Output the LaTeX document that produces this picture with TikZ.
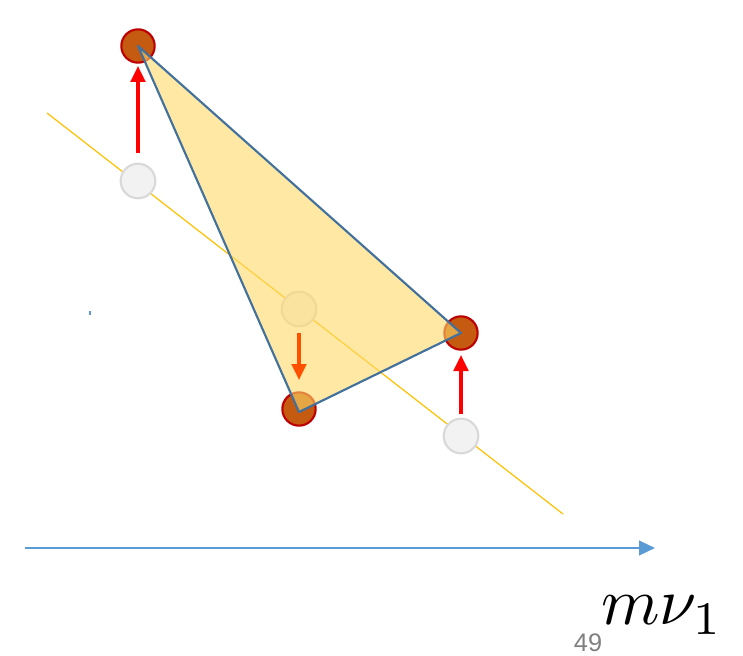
\documentclass[tikz,border=0pt]{standalone}
\usepackage{fontspec}
\newfontfamily\numfont{Liberation Sans}
\usetikzlibrary{arrows.meta}
\begin{document}
\begin{tikzpicture}[x=0.75pt,y=-0.75pt,
  ptdot/.style={circle,draw=red!75!black,fill=orgfill,line width=1.6pt,minimum size=25pt,inner sep=0pt},
  ghost/.style={circle,draw=ghostdraw,fill=ghostfill,line width=1.6pt,minimum size=26pt,inner sep=0pt},
  moveup/.style={draw=red,line width=2.4pt,-{Triangle[length=12pt,width=11pt]}},
  movedown/.style={draw=orgarrow,line width=2.4pt,-{Triangle[length=12pt,width=11pt]}}]
\definecolor{orgfill}{RGB}{197,90,17}
\definecolor{ghostdraw}{RGB}{217,217,217}
\definecolor{ghostfill}{RGB}{242,242,242}
\definecolor{triedge}{RGB}{65,113,156}
\definecolor{trifill}{RGB}{255,217,102}
\definecolor{lineyel}{RGB}{255,192,0}
\definecolor{axisblue}{RGB}{91,155,213}
\definecolor{orgarrow}{RGB}{255,80,0}
\definecolor{numgray}{RGB}{128,128,128}
\useasboundingbox (0,0) rectangle (743,656);
% regression line
\coordinate (l1) at (47,113);
\coordinate (l2) at (563,514);
\draw[lineyel,line width=0.9pt] (l1) -- (l2);
% ghost points
\node[ghost] (g1) at (138,181) {};
\node[ghost] (g2) at (299,309) {};
\node[ghost] (g3) at (461,436) {};
% actual points
\node[ptdot] (p1) at (138,46) {};
\node[ptdot] (p2) at (299,409) {};
\node[ptdot] (p3) at (461,333) {};
% triangle
\coordinate (t2) at (299,412);
\filldraw[fill=trifill,fill opacity=0.6,draw=triedge,line width=1.6pt,line join=round]
  (p1.center) -- (t2) -- (p3.center) -- cycle;
% arrows
\coordinate (a1s) at (138,153); \coordinate (a1e) at (138,66);
\coordinate (a2s) at (299,333); \coordinate (a2e) at (299,380);
\coordinate (a3s) at (461,414); \coordinate (a3e) at (461,355);
\draw[moveup] (a1s) -- (a1e);
\draw[movedown] (a2s) -- (a2e);
\draw[moveup] (a3s) -- (a3e);
% axis
\coordinate (ax1) at (25,548);
\coordinate (ax2) at (655,548);
\draw[axisblue,line width=1.8pt,-{Triangle[length=12pt,width=11pt]}] (ax1) -- (ax2);
% tiny mark
\draw[axisblue,line width=1pt] (90,311) -- (90,315);
% labels
\node[anchor=base west,inner sep=0pt,scale=5.0] (lab) at (600,624) {$m\nu_1$};
\node[inner sep=0pt,text=numgray] (pg) at (588,643) {\numfont\fontsize{19}{21}\selectfont 49};
\end{tikzpicture}
\end{document}
